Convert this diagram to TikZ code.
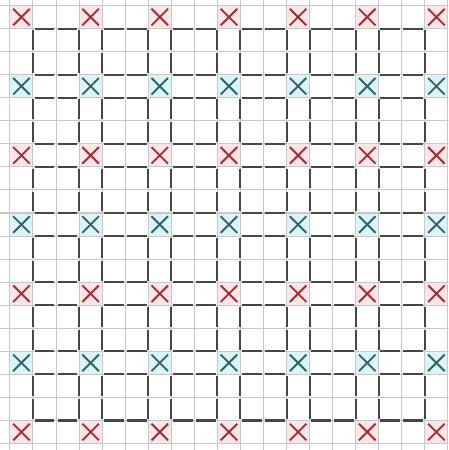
\documentclass[tikz,border=0pt]{standalone}
\definecolor{gridgray}{RGB}{200,200,200}
\definecolor{darkseg}{RGB}{70,70,70}
\definecolor{xred}{RGB}{170,40,50}
\definecolor{xteal}{RGB}{40,100,110}
\definecolor{tintred}{RGB}{252,230,232}
\definecolor{tintteal}{RGB}{222,243,245}
\tikzset{
  lightgrid/.style={draw=gridgray,line width=0.045cm},
  darkline/.style={draw=darkseg,line width=0.09cm},
  xmark/.style={line width=0.08cm},
}
\begin{document}
\begin{tikzpicture}
\useasboundingbox (-0.93,-18.78) rectangle (18.52,0.74);
\fill[white] (-0.93,-18.78) rectangle (18.52,0.74);
% tinted X cells
\foreach \r in {0,...,6} {
  \pgfmathtruncatemacro\odd{mod(\r,2)}
  \ifnum\odd=0 \def\tint{tintred}\else\def\tint{tintteal}\fi
  \foreach \c in {0,...,6} {
    \fill[\tint] (3*\c-0.5,-3*\r+0.5) rectangle (3*\c+0.5,-3*\r-0.5);
  }
}
% light grid
\begin{scope}
\clip (-0.93,-18.78) rectangle (18.52,0.74);
\foreach \k in {-1,...,19} {
  \draw[lightgrid] (\k+0.5,1) -- (\k+0.5,-19.5);
  \draw[lightgrid] (-1.5,-\k-0.5) -- (19.5,-\k-0.5);
}
\end{scope}
% dark block outlines
\def\g{0.07}
\foreach \i in {0,...,5} {
  \foreach \j in {0,...,5} {
    \begin{scope}[shift={(3*\i,-3*\j)}]
      \foreach \a in {0.5,1.5} {
        \draw[darkline] (\a+\g,-0.5) -- (\a+1-\g,-0.5);
        \draw[darkline] (\a+\g,-2.5) -- (\a+1-\g,-2.5);
        \draw[darkline] (0.5,-\a-\g) -- (0.5,-\a-1+\g);
        \draw[darkline] (2.5,-\a-\g) -- (2.5,-\a-1+\g);
      }
    \end{scope}
  }
}
% X marks
\foreach \r in {0,...,6} {
  \pgfmathtruncatemacro\odd{mod(\r,2)}
  \ifnum\odd=0 \def\xc{xred}\else\def\xc{xteal}\fi
  \foreach \c in {0,...,6} {
    \draw[xmark,draw=\xc] (3*\c-0.36,-3*\r+0.36) -- (3*\c+0.36,-3*\r-0.36);
    \draw[xmark,draw=\xc] (3*\c-0.36,-3*\r-0.36) -- (3*\c+0.36,-3*\r+0.36);
  }
}
\end{tikzpicture}
\end{document}
